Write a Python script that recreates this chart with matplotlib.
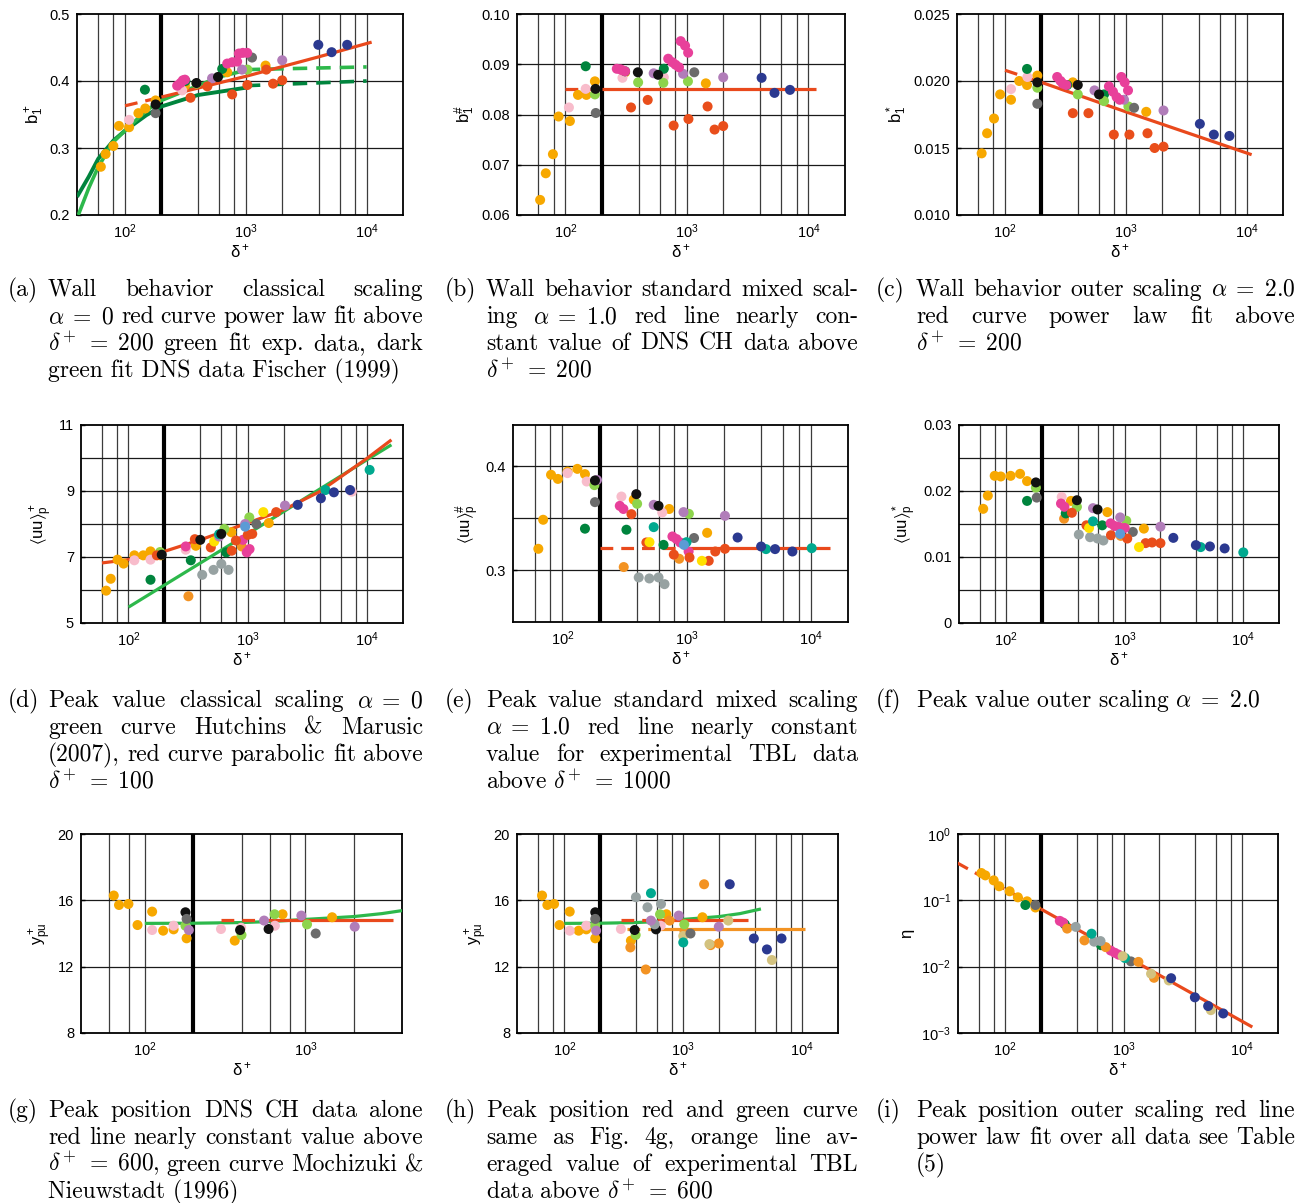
import matplotlib
matplotlib.use('Agg')
import matplotlib.pyplot as plt
from matplotlib.font_manager import FontProperties
from matplotlib.ticker import FixedLocator, NullLocator, FixedFormatter

plt.rcParams['font.family'] = ['Liberation Sans', 'DejaVu Sans']
plt.rcParams['mathtext.fontset'] = 'custom'
plt.rcParams['mathtext.rm'] = 'Liberation Sans'
plt.rcParams['mathtext.it'] = 'Liberation Sans:italic'
plt.rcParams['mathtext.bf'] = 'Liberation Sans:bold'
plt.rcParams['mathtext.sf'] = 'Liberation Sans'

PAL = {'AMB': '#F7A800', 'PNK': '#F8BCCB', 'DGR': '#00843D', 'LGR': '#8DD44C',
       'GRY': '#6B6B6B', 'LGY': '#97A2A2', 'BLK': '#111111', 'MAG': '#E8409A',
       'PUR': '#B17DB9', 'RED': '#E94E1B', 'NAV': '#2B3990', 'ORG': '#F39323',
       'TEA': '#00A98F', 'YEL': '#FFE100', 'KHA': '#D3C27F', 'LBL': '#5B9BD5'}
C_RED = '#E9491C'
C_GRN = '#2DB84B'
C_DGRN = '#00843D'
C_ORG = '#F39323'

# ---------------- (a) b1+ classical ----------------
a_x = [63, 69, 80, 89, 108, 129, 147, 179, 313, 701, 1456,
       108, 297,
       390, 1030,
       146, 316, 637,
       179, 1125,
       525, 930, 2000,
       270, 288, 301, 313, 701, 771, 847, 875, 944, 1026,
       348, 480, 770, 1030, 1475, 1680, 2000,
       179, 390, 588,
       3980, 5130, 6900]
a_y = [0.272, 0.291, 0.303, 0.333, 0.331, 0.352, 0.359, 0.371, 0.393, 0.413, 0.423,
       0.342, 0.386,
       0.396, 0.417,
       0.387, 0.400, 0.418,
       0.352, 0.435,
       0.404, 0.417, 0.431,
       0.393, 0.397, 0.401, 0.402, 0.426, 0.428, 0.429, 0.441, 0.442, 0.442,
       0.375, 0.392, 0.380, 0.394, 0.417, 0.396, 0.401,
       0.365, 0.397, 0.406,
       0.454, 0.443, 0.454]
a_c = (['AMB'] * 11 + ['PNK'] * 2 + ['LGR'] * 2 + ['DGR'] * 3 + ['GRY'] * 2 +
       ['PUR'] * 3 + ['MAG'] * 10 + ['RED'] * 7 + ['BLK'] * 3 + ['NAV'] * 3)
a_red_dash_x = [100, 200]
a_red_dash_y = [0.363, 0.376]
a_red_x = [200, 1000, 4000, 11000]
a_red_y = [0.376, 0.407, 0.436, 0.458]
a_lg_x = [41, 50, 60, 80, 100, 150, 200, 400, 600, 1000]
a_lg_y = [0.200, 0.240, 0.272, 0.309, 0.326, 0.356, 0.371, 0.393, 0.406, 0.416]
a_lg_dash_x = [1000, 10000]
a_lg_dash_y = [0.417, 0.421]
a_dg_x = [40, 50, 60, 80, 100, 150, 200, 400, 1000]
a_dg_y = [0.227, 0.257, 0.284, 0.311, 0.326, 0.349, 0.362, 0.379, 0.390]
a_dg_dash_x = [1000, 10000]
a_dg_dash_y = [0.393, 0.400]

# ---------------- (b) b1# mixed ----------------
b_x = [62, 69, 79, 88, 109, 127, 149, 175, 310, 1432,
       107, 147, 295, 646,
       147, 310, 646,
       175, 397, 640, 1020,
       178, 1150,
       533, 930, 1990,
       265, 283, 295, 310, 702, 759, 807, 861, 889, 966, 1024,
       347, 476, 778, 1030, 1480, 1690, 1990,
       177, 395, 580,
       4120, 5260, 7050]
b_y = [0.0630, 0.0683, 0.0721, 0.0796, 0.0787, 0.0839, 0.0839, 0.0866, 0.0884, 0.0862,
       0.0814, 0.0851, 0.0873, 0.0874,
       0.0896, 0.0886, 0.0891,
       0.0840, 0.0864, 0.0863, 0.0866,
       0.0803, 0.0884,
       0.0882, 0.0881, 0.0874,
       0.0891, 0.0890, 0.0888, 0.0886, 0.0911, 0.0904, 0.0899, 0.0894, 0.0946, 0.0937, 0.0923,
       0.0814, 0.0829, 0.0778, 0.0791, 0.0816, 0.0770, 0.0777,
       0.0851, 0.0884, 0.0879,
       0.0873, 0.0843, 0.0849]
b_c = (['AMB'] * 10 + ['PNK'] * 4 + ['DGR'] * 3 + ['LGR'] * 4 + ['GRY'] * 2 +
       ['PUR'] * 3 + ['MAG'] * 11 + ['RED'] * 7 + ['BLK'] * 3 + ['NAV'] * 3)
b_red_dash_x = [100, 200]
b_red_dash_y = [0.085, 0.085]
b_red_x = [200, 11500]
b_red_y = [0.085, 0.085]

# ---------------- (c) b1* outer ----------------
c_x = [64, 71, 81, 91, 112, 131, 152, 185, 364, 1475,
       112, 153,
       152, 327, 660,
       185, 400, 660, 1050,
       185, 1170,
       550, 966, 2050,
       270, 288, 301, 321, 724, 782, 839, 889, 918, 978, 1042,
       364, 490, 795, 1070, 1510, 1730, 2050,
       185, 400, 600,
       4100, 5350, 7200]
c_y = [0.0146, 0.0161, 0.0172, 0.0190, 0.0186, 0.0200, 0.0197, 0.0204, 0.0199, 0.0177,
       0.0194, 0.0203,
       0.0209, 0.0197, 0.0190,
       0.0195, 0.0190, 0.0185, 0.0181,
       0.0183, 0.0180,
       0.0193, 0.0186, 0.0178,
       0.0203, 0.0200, 0.0198, 0.0197, 0.0196, 0.0192, 0.0188, 0.0186, 0.0203, 0.0199, 0.0193,
       0.0176, 0.0176, 0.0160, 0.0160, 0.0161, 0.0150, 0.0151,
       0.0199, 0.0197, 0.0190,
       0.0168, 0.0160, 0.0159]
c_c = (['AMB'] * 10 + ['PNK'] * 2 + ['DGR'] * 3 + ['LGR'] * 4 + ['GRY'] * 2 +
       ['PUR'] * 3 + ['MAG'] * 11 + ['RED'] * 7 + ['BLK'] * 3 + ['NAV'] * 3)
c_red_dash_x = [100, 200]
c_red_dash_y = [0.0208, 0.0199]
c_red_x = [200, 1000, 11000]
c_red_y = [0.0199, 0.0177, 0.0145]

# ---------------- (d) <uu>p+ classical ----------------
d_x = [65, 71, 81, 91, 112, 133, 153, 186, 367, 728, 1500,
       112, 153, 302, 7450,
       153, 333, 660,
       415, 516, 600, 690,
       318, 890,
       184, 636, 1030,
       1180,
       302, 910, 980, 1035,
       173, 360, 490, 733, 795, 1000, 1090, 1730,
       523, 1350,
       575, 950, 2050,
       575, 4480, 10500,
       950,
       190, 400, 600,
       2620, 4100, 5270, 7200]
d_y = [5.98, 6.34, 6.92, 6.80, 7.05, 7.05, 7.17, 7.05, 7.34, 7.75, 8.03,
       6.90, 6.92, 7.22, 8.98,
       6.31, 6.90, 7.14,
       6.46, 6.61, 6.79, 6.61,
       5.81, 7.32,
       7.15, 7.85, 8.20,
       8.00,
       7.32, 7.52, 7.14, 7.24,
       7.05, 7.54, 7.29, 7.19, 7.50, 7.67, 7.70, 8.36,
       7.47, 8.36,
       7.62, 8.00, 8.56,
       7.69, 9.03, 9.64,
       7.92,
       7.07, 7.52, 7.70,
       8.58, 8.78, 8.96, 9.03]
d_c = (['AMB'] * 11 + ['PNK'] * 4 + ['DGR'] * 3 + ['LGY'] * 4 + ['ORG'] * 2 +
       ['LGR'] * 3 + ['GRY'] * 1 + ['MAG'] * 4 + ['RED'] * 8 + ['YEL'] * 2 +
       ['PUR'] * 3 + ['TEA'] * 3 + ['LBL'] * 1 + ['BLK'] * 3 + ['NAV'] * 4)
d_red_x = [60, 100, 200, 400, 1000, 2000, 4000, 10000, 16000]
d_red_y = [6.82, 6.92, 7.17, 7.52, 8.03, 8.43, 8.98, 9.99, 10.55]
d_grn_x = [100, 1000, 10000, 16000]
d_grn_y = [5.48, 7.70, 9.95, 10.40]

# ---------------- (e) <uu>p# mixed ----------------
e_x = [64, 70, 81, 92, 110, 132, 152, 376, 725, 1466,
       312, 873,
       110, 157, 299, 637,
       152, 328, 653,
       181, 400, 1045,
       183, 1150,
       412, 502, 595, 665,
       290, 310, 770, 830, 890, 1040,
       190, 544, 946, 2040,
       360, 475, 790, 1057, 1510, 1705, 2040,
       503, 1330,
       544, 1000, 4370, 10200,
       953,
       183, 394, 595,
       2580, 3990, 5170, 7130]
e_y = [0.3206, 0.3486, 0.392, 0.388, 0.395, 0.3977, 0.3926, 0.368, 0.359, 0.336,
       0.303, 0.311,
       0.3936, 0.3855, 0.371, 0.3556,
       0.340, 0.339, 0.3244,
       0.382, 0.364, 0.3543,
       0.3656, 0.331,
       0.293, 0.292, 0.293, 0.2865,
       0.362, 0.359, 0.3325, 0.330, 0.3267, 0.318,
       0.387, 0.363, 0.356, 0.3524,
       0.354, 0.3267, 0.315, 0.3122, 0.309, 0.318, 0.3206,
       0.327, 0.309,
       0.3415, 0.327, 0.3203, 0.3212,
       0.3244,
       0.3865, 0.3733, 0.362,
       0.3315, 0.3228, 0.3203, 0.318]
e_c = (['AMB'] * 10 + ['ORG'] * 2 + ['PNK'] * 4 + ['DGR'] * 3 + ['LGR'] * 3 +
       ['GRY'] * 2 + ['LGY'] * 4 + ['MAG'] * 6 + ['PUR'] * 4 + ['RED'] * 7 +
       ['YEL'] * 2 + ['TEA'] * 4 + ['LBL'] * 1 + ['BLK'] * 3 + ['NAV'] * 4)
e_red_dash_x = [200, 1000]
e_red_dash_y = [0.321, 0.321]
e_red_x = [1000, 14300]
e_red_y = [0.321, 0.321]

# ---------------- (f) <uu>p* outer ----------------
f_x = [64, 70, 80, 90, 109, 131, 150, 352, 714, 1450,
       308, 925,
       294,
       150, 318, 646,
       178, 395, 1030,
       181, 1170,
       410, 510, 590, 660,
       290, 310, 760, 820, 890, 1000,
       540, 915, 2000,
       358, 475, 765, 1050, 1500, 1700, 2000,
       500, 1320,
       540, 4370, 10000,
       915,
       178, 395, 590,
       2570, 3980, 5230, 6960]
f_y = [0.0173, 0.0193, 0.0223, 0.0222, 0.0223, 0.0226, 0.0215, 0.0185, 0.0168, 0.0143,
       0.0158, 0.0132,
       0.0191,
       0.0185, 0.0166, 0.0148,
       0.0205, 0.0176, 0.0155,
       0.0190, 0.0138,
       0.0134, 0.0130, 0.0128, 0.0125,
       0.0181, 0.0176, 0.0151, 0.0147, 0.0146, 0.0144,
       0.0174, 0.0160, 0.0146,
       0.0167, 0.0148, 0.0133, 0.0128, 0.0121, 0.0122, 0.0121,
       0.0144, 0.0115,
       0.0154, 0.0115, 0.0107,
       0.0135,
       0.0213, 0.0186, 0.0172,
       0.0129, 0.0118, 0.0116, 0.0113]
f_c = (['AMB'] * 10 + ['ORG'] * 2 + ['PNK'] * 1 + ['DGR'] * 3 + ['LGR'] * 3 +
       ['GRY'] * 2 + ['LGY'] * 4 + ['MAG'] * 6 + ['PUR'] * 3 + ['RED'] * 7 +
       ['YEL'] * 2 + ['TEA'] * 3 + ['LBL'] * 1 + ['BLK'] * 3 + ['NAV'] * 4)

# ---------------- (g) ypu+ DNS CH ----------------
g_x = [64, 69, 79, 90, 111, 130, 151, 182, 363, 721, 1468,
       111, 151, 298, 398, 646,
       179, 400, 643, 1024,
       179, 392, 590,
       182, 1160,
       188, 553, 944, 2030]
g_y = [16.29, 15.72, 15.78, 14.51, 15.32, 14.17, 14.25, 13.71, 13.57, 15.16, 14.98,
       14.21, 14.47, 14.27, 14.35, 14.47,
       14.47, 13.91, 15.16, 14.55,
       15.28, 14.21, 14.27,
       14.88, 14.00,
       14.21, 14.78, 15.08, 14.41]
g_c = (['AMB'] * 11 + ['PNK'] * 5 + ['LGR'] * 4 + ['BLK'] * 3 + ['GRY'] * 2 + ['PUR'] * 4)
g_grn_x = [100, 200, 400, 600, 1000, 2000, 3000, 4000]
g_grn_y = [14.61, 14.62, 14.66, 14.72, 14.85, 15.02, 15.20, 15.38]
g_red_dash_x = [300, 600]
g_red_dash_y = [14.82, 14.82]
g_red_x = [600, 3540]
g_red_y = [14.82, 14.82]

# ---------------- (h) ypu+ all data ----------------
h_x = [65, 72, 82, 91, 111, 132, 153, 182, 363, 722, 1450,
       359, 484, 768, 1023, 1497, 1700, 1990,
       1000, 1660, 2390, 5560,
       111, 153, 299, 646,
       182, 398, 638, 1020,
       400, 500, 650,
       182, 390, 590,
       182, 1150, 575,
       185, 535, 916, 1990,
       535, 1000,
       2460, 3920, 5050, 6700]
h_y = [16.29, 15.72, 15.78, 14.51, 15.32, 14.17, 14.25, 13.71, 13.57, 15.16, 14.98,
       13.16, 11.83, 14.78, 14.15, 16.97, 13.30, 13.40,
       13.85, 13.36, 14.78, 12.40,
       14.17, 14.47, 14.27, 14.47,
       14.47, 13.91, 15.16, 14.55,
       16.19, 15.58, 15.78,
       15.28, 14.21, 14.25,
       14.88, 14.00, 14.55,
       14.17, 14.78, 15.08, 14.41,
       16.43, 13.46,
       16.97, 13.70, 13.04, 13.70]
h_c = (['AMB'] * 11 + ['ORG'] * 7 + ['KHA'] * 4 + ['PNK'] * 4 + ['LGR'] * 4 +
       ['LGY'] * 3 + ['BLK'] * 3 + ['GRY'] * 2 + ['LGY'] * 1 + ['PUR'] * 4 +
       ['TEA'] * 2 + ['NAV'] * 4)
h_grn_x = [100, 200, 400, 600, 1000, 2000, 3000, 4500]
h_grn_y = [14.61, 14.62, 14.66, 14.72, 14.85, 15.02, 15.20, 15.48]
h_red_dash_x = [300, 600]
h_red_dash_y = [14.82, 14.82]
h_red_x = [600, 3500]
h_red_y = [14.82, 14.82]
h_org_dash_x = [335, 600]
h_org_dash_y = [14.25, 14.25]
h_org_x = [600, 10500]
h_org_y = [14.25, 14.25]

# ---------------- (i) eta outer ----------------
i_x = [63, 68, 80, 89, 109, 128, 153, 180,
       148, 318, 643,
       180, 1150,
       289, 308, 776, 840, 902,
       333, 466, 705, 1330, 1800,
       394, 563, 637,
       535, 1025,
       980, 1700, 2400, 5430,
       2510, 3980, 5150, 6900]
i_y = [0.258, 0.238, 0.200, 0.163, 0.137, 0.111, 0.0966, 0.078,
       0.085, 0.0436, 0.0211,
       0.085, 0.0120,
       0.049, 0.0462, 0.0175, 0.0162, 0.0152,
       0.0375, 0.0249, 0.0197, 0.0118, 0.0068,
       0.0398, 0.0238, 0.0243,
       0.0314, 0.0135,
       0.0144, 0.00782, 0.0062, 0.00221,
       0.0067, 0.00345, 0.00255, 0.00197]
i_c = (['AMB'] * 8 + ['DGR'] * 3 + ['GRY'] * 2 + ['MAG'] * 5 + ['ORG'] * 5 +
       ['LGY'] * 3 + ['TEA'] * 2 + ['KHA'] * 4 + ['NAV'] * 4)
i_red_dash_x = [39, 200]
i_red_dash_y = [0.37, 0.074]
i_red_x = [200, 12150]
i_red_y = [0.074, 0.00123]

# ---------------- figure ----------------
W, H = 1309, 1203
fig = plt.figure(figsize=(W / 100, H / 100), dpi=100)


def add_ax(l, r, t, b):
    return fig.add_axes([l / W, 1 - b / H, (r - l) / W, (b - t) / H])


VGRID = [60, 80, 100, 400, 600, 800, 1000, 2000, 4000, 6000, 8000, 10000]


def setup(ax, xlim, ylim, yt, ytl, hgrid, ylab, logy=False):
    ax.set_xscale('log')
    if logy:
        ax.set_yscale('log')
    ax.set_xlim(*xlim)
    ax.set_ylim(*ylim)
    xt = [t for t in [100, 1000, 10000] if xlim[0] <= t <= xlim[1]]
    ax.xaxis.set_major_locator(FixedLocator(xt))
    ax.xaxis.set_major_formatter(FixedFormatter(
        [r'$\mathregular{10^%d}$' % {100: 2, 1000: 3, 10000: 4}[t] for t in xt]))
    ax.xaxis.set_minor_locator(NullLocator())
    ax.yaxis.set_major_locator(FixedLocator(yt))
    ax.yaxis.set_major_formatter(FixedFormatter(ytl))
    ax.yaxis.set_minor_locator(NullLocator())
    ax.tick_params(axis='x', length=0, pad=5, labelsize=10.5)
    ax.tick_params(axis='y', direction='in', length=3, width=1, pad=5, labelsize=10.5)
    for v in VGRID:
        if xlim[0] < v < xlim[1]:
            ax.axvline(v, color='#3c3c3c', lw=0.9, zorder=1)
    ax.axvline(200, color='black', lw=3.0, zorder=2)
    for hv in hgrid:
        ax.axhline(hv, color='#1a1a1a', lw=0.9, zorder=1)
    for s in ax.spines.values():
        s.set_linewidth(1.3)
    ax.set_xlabel(r'$\mathregular{\delta^+}$', fontsize=12, labelpad=1)
    ax.set_ylabel(ylab, fontsize=12, labelpad=3)


def pts(ax, x, y, c):
    ax.scatter(x, y, s=52, c=[PAL[k] for k in c], edgecolors='none', zorder=4)


def ln(ax, x, y, col, ls='-', lw=2.3):
    ax.plot(x, y, color=col, ls=ls, lw=lw, zorder=3,
            dashes=(4, 2.5) if ls == '--' else (None, None), solid_capstyle='butt')


XL = (40, 20000)

axa = add_ax(77, 403, 14, 215)
setup(axa, XL, (0.2, 0.5), [0.2, 0.3, 0.4, 0.5], ['0.2', '0.3', '0.4', '0.5'],
      [0.3, 0.4], r'$\mathregular{b_1^+}$')
ln(axa, a_dg_x, a_dg_y, C_DGRN, lw=2.8)
ln(axa, a_dg_dash_x, a_dg_dash_y, C_DGRN, '--', lw=2.6)
ln(axa, a_lg_x, a_lg_y, C_GRN, lw=2.6)
ln(axa, a_lg_dash_x, a_lg_dash_y, C_GRN, '--', lw=2.6)
ln(axa, a_red_dash_x, a_red_dash_y, C_RED, '--')
ln(axa, a_red_x, a_red_y, C_RED)
pts(axa, a_x, a_y, a_c)

axb = add_ax(517, 845, 14, 215)
setup(axb, XL, (0.06, 0.10), [0.06, 0.07, 0.08, 0.09, 0.10],
      ['0.06', '0.07', '0.08', '0.09', '0.10'], [0.07, 0.08, 0.09], r'$\mathregular{b_1^\#}$')
ln(axb, b_red_dash_x, b_red_dash_y, C_RED, '--')
ln(axb, b_red_x, b_red_y, C_RED)
pts(axb, b_x, b_y, b_c)

axc = add_ax(957, 1283, 14, 215)
setup(axc, XL, (0.010, 0.025), [0.010, 0.015, 0.020, 0.025],
      ['0.010', '0.015', '0.020', '0.025'], [0.015, 0.020], r'$\mathregular{b_1^*}$')
ln(axc, c_red_dash_x, c_red_dash_y, C_RED, '--')
ln(axc, c_red_x, c_red_y, C_RED)
pts(axc, c_x, c_y, c_c)

axd = add_ax(81, 403, 425, 623)
setup(axd, XL, (5, 11), [5, 7, 9, 11], ['5', '7', '9', '11'], [6, 7, 8, 9, 10],
      r'$\mathregular{\langle uu\rangle_p^+}$')
ln(axd, d_grn_x, d_grn_y, C_GRN)
ln(axd, d_red_x, d_red_y, C_RED)
pts(axd, d_x, d_y, d_c)

axe = add_ax(513, 848, 425, 622)
setup(axe, XL, (0.25, 0.44), [0.3, 0.4], ['0.3', '0.4'], [0.3, 0.35, 0.4],
      r'$\mathregular{\langle uu\rangle_p^\#}$')
ln(axe, e_red_dash_x, e_red_dash_y, C_RED, '--')
ln(axe, e_red_x, e_red_y, C_RED)
pts(axe, e_x, e_y, e_c)

axf = add_ax(959, 1279, 425, 623)
setup(axf, XL, (0, 0.03), [0, 0.01, 0.02, 0.03], ['0', '0.01', '0.02', '0.03'],
      [0.005, 0.01, 0.015, 0.02, 0.025], r'$\mathregular{\langle uu\rangle_p^*}$')
pts(axf, f_x, f_y, f_c)

axg = add_ax(81, 402, 834, 1033)
setup(axg, (40, 4000), (8, 20), [8, 12, 16, 20], ['8', '12', '16', '20'], [12, 16],
      r'$\mathregular{y_{pu}^+}$')
ln(axg, g_grn_x, g_grn_y, C_GRN)
ln(axg, g_red_dash_x, g_red_dash_y, C_RED, '--')
ln(axg, g_red_x, g_red_y, C_RED)
pts(axg, g_x, g_y, g_c)

axh = add_ax(517, 838, 834, 1033)
setup(axh, XL, (8, 20), [8, 12, 16, 20], ['8', '12', '16', '20'], [12, 16],
      r'$\mathregular{y_{pu}^+}$')
ln(axh, h_grn_x, h_grn_y, C_GRN)
ln(axh, h_red_dash_x, h_red_dash_y, C_RED, '--')
ln(axh, h_red_x, h_red_y, C_RED)
ln(axh, h_org_dash_x, h_org_dash_y, C_ORG, '--')
ln(axh, h_org_x, h_org_y, C_ORG)
pts(axh, h_x, h_y, h_c)

axi = add_ax(958, 1278, 834, 1033)
setup(axi, XL, (1e-3, 1), [1e-3, 1e-2, 1e-1, 1],
      [r'$\mathregular{10^{-3}}$', r'$\mathregular{10^{-2}}$', r'$\mathregular{10^{-1}}$',
       r'$\mathregular{10^{0}}$'], [1e-2, 1e-1], r'$\mathregular{\eta}$', logy=True)
ln(axi, i_red_dash_x, i_red_dash_y, C_RED, '--')
ln(axi, i_red_x, i_red_y, C_RED)
pts(axi, i_x, i_y, i_c)

# ---------------- captions ----------------
cap_a = ['Wall behavior classical scaling',
         r'$\alpha\;=\;0$ red curve power law fit above',
         r'$\delta^{\!+}\;=\;200$ green fit exp. data, dark',
         'green fit DNS data Fischer (1999)']
cap_b = ['Wall behavior standard mixed scal-',
         r'ing $\alpha\;=\;1.0$ red line nearly con-',
         'stant value of DNS CH data above',
         r'$\delta^{\!+}\;=\;200$']
cap_c = [r'Wall behavior outer scaling $\alpha\;=\;2.0$',
         'red curve power law fit above',
         r'$\delta^{\!+}\;=\;200$']
cap_d = [r'Peak value classical scaling $\alpha\;=\;0$',
         'green curve Hutchins & Marusic',
         '(2007), red curve parabolic fit above',
         r'$\delta^{\!+}\;=\;100$']
cap_e = ['Peak value standard mixed scaling',
         r'$\alpha\;=\;1.0$ red line nearly constant',
         'value for experimental TBL data',
         r'above $\delta^{\!+}\;=\;1000$']
cap_f = [r'Peak value outer scaling $\alpha\;=\;2.0$']
cap_g = ['Peak position DNS CH data alone',
         'red line nearly constant value above',
         r'$\delta^{\!+}\;=\;600$, green curve Mochizuki &',
         'Nieuwstadt (1996)']
cap_h = ['Peak position red and green curve',
         'same as Fig. 4g, orange line av-',
         'eraged value of experimental TBL',
         r'data above $\delta^{\!+}\;=\;600$']
cap_i = ['Peak position outer scaling red line',
         'power law fit over all data see Table',
         '(5)']

fp = FontProperties(family='cmr10', size=17, math_fontfamily='cm')
renderer = fig.canvas.get_renderer()


def tokenize(s):
    toks, cur, inmath = [], '', False
    for ch in s:
        if ch == '$':
            inmath = not inmath
        if ch == ' ' and not inmath:
            if cur:
                toks.append(cur)
                cur = ''
        else:
            cur += ch
    if cur:
        toks.append(cur)
    return toks


def put(x, yb, s):
    return fig.text(x / W, 1 - yb / H, s, fontproperties=fp, ha='left', va='baseline')


def caption(tag, lines, xtag, x0, x1, yb0, dy=27):
    put(xtag, yb0, tag)
    n = len(lines)
    for k, s in enumerate(lines):
        yb = yb0 + k * dy
        toks = tokenize(s)
        if k == n - 1 or len(toks) < 2:
            put(x0, yb, s)
            continue
        ws = []
        for t in toks:
            tt = put(0, 0, t)
            ws.append(tt.get_window_extent(renderer).width)
            tt.remove()
        gap = (x1 - x0 - sum(ws)) / (len(toks) - 1)
        x = x0
        for t, w in zip(toks, ws):
            put(x, yb, t)
            x += w + gap


COLS = [(8, 48, 423), (445, 486, 858), (876, 916, 1295)]
ROWS = [296, 707, 1117]
for (tag, lines), (ci, ri) in zip(
        [('(a)', cap_a), ('(b)', cap_b), ('(c)', cap_c),
         ('(d)', cap_d), ('(e)', cap_e), ('(f)', cap_f),
         ('(g)', cap_g), ('(h)', cap_h), ('(i)', cap_i)],
        [(0, 0), (1, 0), (2, 0), (0, 1), (1, 1), (2, 1), (0, 2), (1, 2), (2, 2)]):
    xt, x0, x1 = COLS[ci]
    caption(tag, lines, xt, x0, x1, ROWS[ri])

fig.savefig('out.png', dpi=100)
